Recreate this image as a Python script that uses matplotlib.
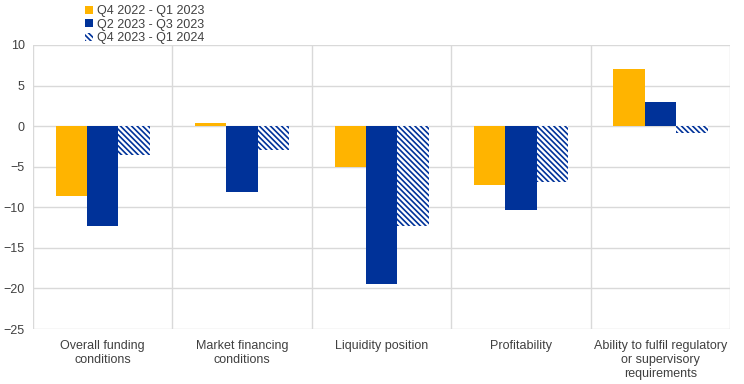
import matplotlib.pyplot as plt
import numpy as np

categories = ["Overall funding\nconditions", "Market financing\nconditions",
              "Liquidity position", "Profitability",
              "Ability to fulfil regulatory\nor supervisory\nrequirements"]
series_names = ["Q4 2022 - Q1 2023", "Q2 2023 - Q3 2023", "Q4 2023 - Q1 2024"]
q4_22 = [-8.6, 0.4, -5.0, -7.2, 7.0]
q2_23 = [-12.3, -8.1, -19.5, -10.3, 3.0]
q4_23 = [-3.6, -3.0, -12.3, -6.9, -0.8]

plt.rcParams['font.family'] = ['Liberation Sans', 'DejaVu Sans']
plt.rcParams['hatch.linewidth'] = 1.2
plt.rcParams['hatch.color'] = '#003299'

fig = plt.figure(figsize=(7.44, 3.84), dpi=100)
ax = fig.add_axes([0.0444, 0.143, 0.937, 0.74])

x = np.arange(len(categories))
w = 0.225
ax.bar(x - w, q4_22, w, color='#FFB400', label=series_names[0], zorder=3)
ax.bar(x, q2_23, w, color='#003299', label=series_names[1], zorder=3)
ax.bar(x + w, q4_23, w, color='white', edgecolor='#003299', linewidth=0,
       hatch='\\\\\\\\\\\\', label=series_names[2], zorder=3)

ax.set_ylim(-25, 10)
ax.set_xlim(-0.5, 4.5)
ax.set_yticks(range(-25, 11, 5))
ax.set_xticks(x)
ax.set_xticklabels(categories)
ax.grid(axis='y', color='#d9d9d9', linewidth=1, zorder=0)
for b in np.arange(-0.5, 5, 1):
    ax.axvline(b, color='#d9d9d9', linewidth=1, zorder=0)
for s in ax.spines.values():
    s.set_visible(False)
ax.tick_params(length=0, labelsize=9, colors='#404040')
ax.tick_params(axis='x', pad=8)
ax.tick_params(axis='y', pad=6)

ax.legend(loc='lower left', bbox_to_anchor=(0.068, 0.985), frameon=False,
          fontsize=9, handlelength=0.6, handleheight=0.6, handletextpad=0.3,
          labelspacing=0.12, borderaxespad=0, labelcolor='#404040')

fig.savefig('out.png', dpi=100)
